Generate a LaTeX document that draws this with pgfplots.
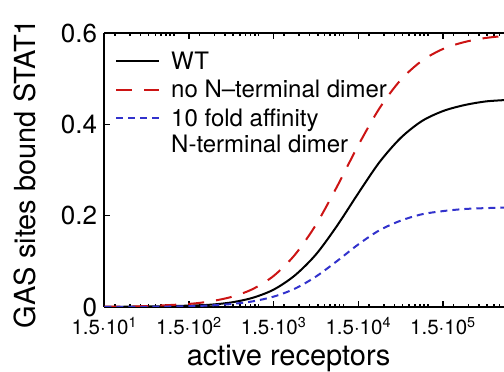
\documentclass[border=0pt]{standalone}
\usepackage{pgfplots}
\pgfplotsset{compat=1.18}
\usepackage{fontspec}
\setmainfont{TeX Gyre Heros}
\definecolor{myred}{RGB}{204,20,20}
\definecolor{myblue}{RGB}{50,50,204}
\begin{document}
\begin{tikzpicture}
\begin{axis}[
  name=ax,
  width=399.7pt, height=274pt, scale only axis,
  xmode=log, xmin=15, xmax=7.9e5, ymin=0, ymax=0.6,
  axis y line*=left,
  axis line style={line width=2pt},
  xtick={15,150,1500,15000,150000},
  xticklabels={1.5·10\textsuperscript{1},1.5·10\textsuperscript{2},1.5·10\textsuperscript{3},1.5·10\textsuperscript{4},1.5·10\textsuperscript{5}},
  minor xtick={20,30,40,50,60,70,80,90,100,200,300,400,500,600,700,800,900,1000,2000,3000,4000,5000,6000,7000,8000,9000,10000,20000,30000,40000,50000,60000,70000,80000,90000,100000,200000,300000,400000,500000,600000,700000},
  ytick={0,0.2,0.4,0.6}, yticklabels={0,0.2,0.4,0.6},
  major tick length=6pt, minor tick length=3pt,
  tick style={black, line width=1.5pt},
  xticklabel style={font=\fontsize{20.5}{24}\selectfont, anchor=base, yshift=-28pt, inner sep=0pt},
  yticklabel style={font=\fontsize{26}{30}\selectfont, anchor=east, xshift=-7pt, inner sep=0pt},
  xlabel={active receptors},
  ylabel={GAS sites bound STAT1},
  xlabel style={at={(axis description cs:0.461,-0.2117)}, anchor=base, font=\fontsize{29}{34}\selectfont, inner sep=0pt},
  ylabel style={at={(axis description cs:-0.198,0.487)}, anchor=center, font=\fontsize{29}{34}\selectfont, inner sep=0pt},
  legend style={draw=none, fill=none, at={(axis description cs:0.0268,0.938)}, anchor=north west,
    font=\fontsize{24}{26}\selectfont, inner sep=0pt, row sep=6pt, column sep=9pt,
    cells={anchor=base west, inner sep=0pt, text height=17pt, text depth=0pt}},
  legend image code/.code={\draw[#1] (0pt,8pt) -- (43pt,8pt);},
]
\addplot[black, line width=2pt, smooth] coordinates {
(15,0.0003) (47.43,0.001) (150,0.003) (266.7,0.005) (474.3,0.010) (843.5,0.020)
(1500,0.038) (2667,0.069) (4743,0.115) (8435,0.178) (15000,0.249) (26674,0.317)
(47434,0.370) (84350,0.407) (150000,0.429) (266740,0.442) (474342,0.450) (790000,0.453)};
\addlegendentry{WT}
\addplot[myred, line width=2pt, smooth, dash pattern=on 16pt off 12pt] coordinates {
(15,0.0006) (47.43,0.002) (150,0.0068) (266.7,0.0123) (474.3,0.022) (843.5,0.039)
(1500,0.068) (2667,0.114) (4743,0.180) (8435,0.264) (15000,0.354) (26674,0.435)
(47434,0.497) (84350,0.539) (150000,0.565) (266740,0.580) (474342,0.589) (790000,0.5935)};
\addlegendentry{no N–terminal dimer}
\addplot[myblue, line width=2pt, smooth, dash pattern=on 7pt off 5pt] coordinates {
(15,0.0001) (47.43,0.0005) (150,0.0018) (266.7,0.0034) (474.3,0.0065) (843.5,0.0123)
(1500,0.0227) (2667,0.040) (4743,0.0666) (8435,0.1007) (15000,0.137) (26674,0.168)
(47434,0.189) (84350,0.203) (150000,0.210) (266740,0.2145) (474342,0.2165) (790000,0.2175)};
\addlegendentry{\begin{tabular}[t]{@{}l@{}}10 fold affinity\\N-terminal dimer\end{tabular}}
\end{axis}
\pgfresetboundingbox
\path ([shift={(-104.3pt,-65pt)}]ax.south west) rectangle ([shift={(399.7pt,307pt)}]ax.south west);
\end{tikzpicture}
\end{document}
